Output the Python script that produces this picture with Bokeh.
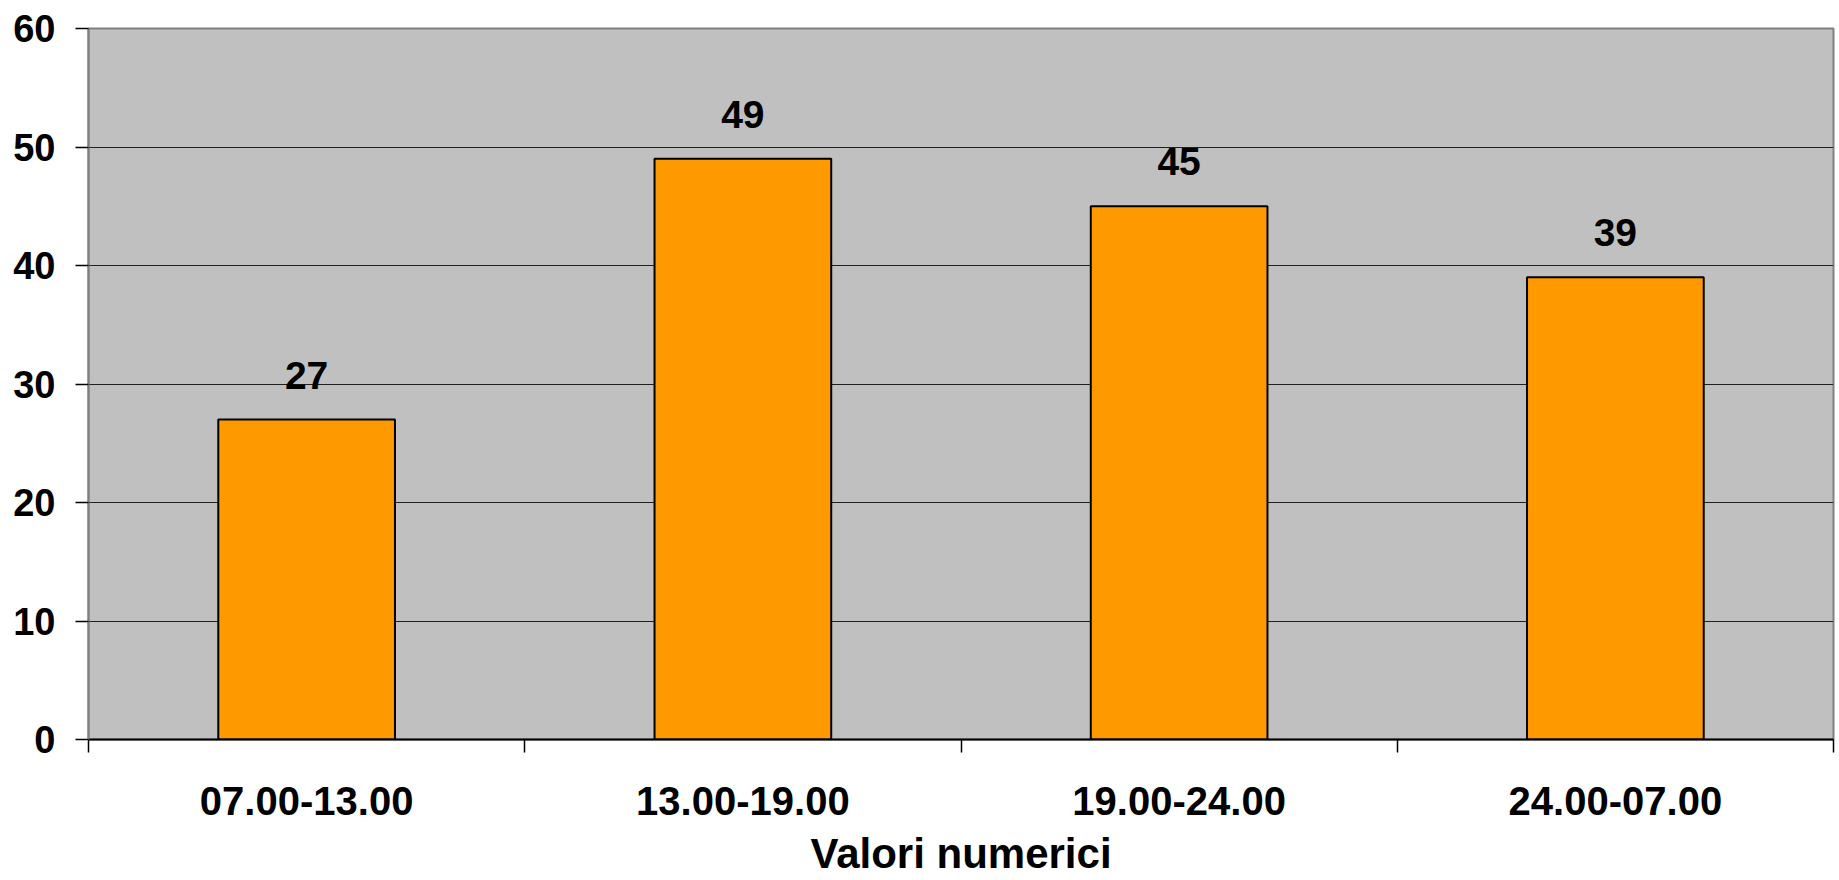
from bokeh.plotting import figure
from bokeh.models import (Range1d, FixedTicker, SingleIntervalTicker,
                          ColumnDataSource, LabelSet)
from bokeh.core.properties import value
from bokeh.embed import file_html
from bokeh.resources import INLINE

categories = ["07.00-13.00", "13.00-19.00", "19.00-24.00", "24.00-07.00"]
values = [27, 49, 45, 39]
y_ticks_interval = 10
y_max = 60
x_title = "Valori numerici"

FONT = "Liberation Sans"

n = len(categories)
pos = [i + 0.5 for i in range(n)]  # category centres on a 0..n index scale
src = ColumnDataSource(dict(x=pos, cat=categories, val=values,
                            lab=[str(v) for v in values]))

p = figure(width=1839, height=880, output_backend="svg", toolbar_location=None,
           x_range=Range1d(0, n), y_range=Range1d(0, y_max),
           min_border_left=88, min_border_right=6, min_border_top=28, min_border_bottom=141)
p.background_fill_color = "#C0C0C0"
p.border_fill_color = "white"
p.outline_line_color = "#808080"
p.outline_line_width = 2

p.vbar(x="x", top="val", width=0.405, source=src, fill_color="#FF9900",
       line_color="black", line_width=2)

labels = LabelSet(x="x", y="val", text="lab", source=src, text_align="center",
                  text_baseline="alphabetic", y_offset=31, text_font=value(FONT),
                  text_font_style="bold", text_font_size="39px", text_color="black")
p.add_layout(labels)

xaxis = p.xaxis[0]
xaxis.ticker = FixedTicker(ticks=pos, minor_ticks=list(range(n + 1)))
xaxis.major_label_overrides = {x: c for x, c in zip(pos, categories)}
xaxis.major_tick_out = 0
xaxis.major_tick_in = 0
xaxis.minor_tick_out = 13
xaxis.minor_tick_in = 0
xaxis.minor_tick_line_color = "black"
xaxis.minor_tick_line_width = 1.5
xaxis.axis_line_color = "black"
xaxis.axis_line_width = 2
xaxis.major_label_text_font = FONT
xaxis.major_label_text_font_style = "bold"
xaxis.major_label_text_font_size = "40px"
xaxis.major_label_text_color = "black"
xaxis.major_label_standoff = 34
xaxis.axis_label = x_title
xaxis.axis_label_text_font = FONT
xaxis.axis_label_text_font_style = "bold"
xaxis.axis_label_text_font_size = "42px"
xaxis.axis_label_text_color = "black"
xaxis.axis_label_standoff = 12

yaxis = p.yaxis[0]
yaxis.ticker = SingleIntervalTicker(interval=y_ticks_interval)
yaxis.major_tick_out = 13
yaxis.major_tick_in = 0
yaxis.major_tick_line_color = "black"
yaxis.major_tick_line_width = 1.5
yaxis.minor_tick_line_color = None
yaxis.axis_line_color = "#808080"
yaxis.axis_line_width = 2
yaxis.major_label_text_font = FONT
yaxis.major_label_text_font_style = "bold"
yaxis.major_label_text_font_size = "38px"
yaxis.major_label_text_color = "black"
yaxis.major_label_standoff = 20

p.xgrid.grid_line_color = None
p.ygrid.grid_line_color = "#202020"
p.ygrid.grid_line_width = 1.2

open("out.html", "w").write(file_html(p, INLINE))
